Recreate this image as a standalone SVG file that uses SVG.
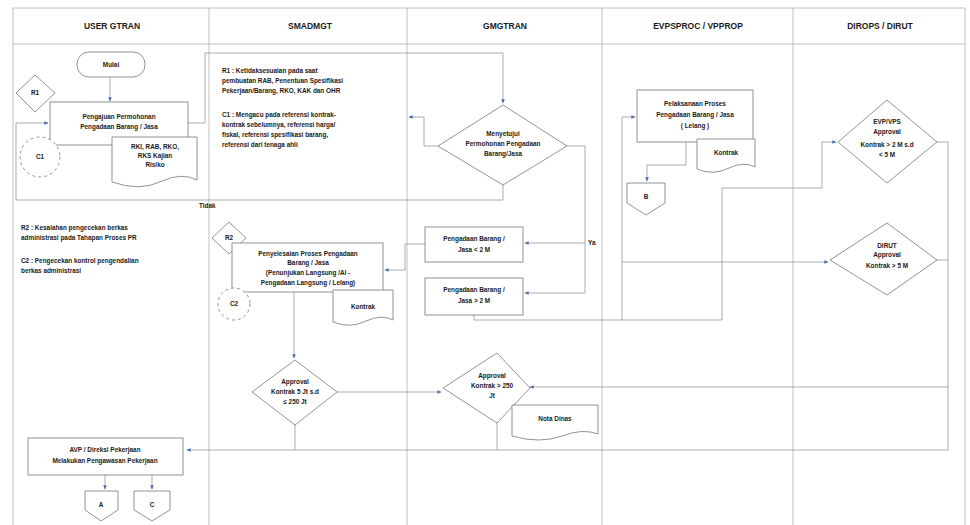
<svg xmlns="http://www.w3.org/2000/svg" width="970" height="525" viewBox="0 0 970 525">
<style>
text{font-family:"Liberation Sans",Arial,sans-serif;fill:#1a1a1a;}
.hd{font-size:8.5px;font-weight:bold;text-anchor:middle;}
.t{font-size:6.4px;font-weight:bold;text-anchor:middle;}
.a{font-size:6.4px;font-weight:bold;}
.lane{stroke:#b0b0b0;stroke-width:0.8;fill:none;}
.shp{fill:#fff;stroke:#777;stroke-width:0.8;}
.dash{fill:#fff;stroke:#777;stroke-width:0.8;stroke-dasharray:3 3;}
.c{fill:none;stroke:#8a8a8a;stroke-width:0.7;}
.ca{fill:none;stroke:#8a8a8a;stroke-width:0.7;marker-end:url(#ah);}
</style>
<defs>
<marker id="ah" viewBox="0 0 8 8" refX="7" refY="4" markerWidth="6" markerHeight="6" orient="auto">
<path d="M0,0.5 L8,4 L0,7.5 Z" fill="#4a6bb0"/>
</marker>
</defs>
<rect width="970" height="525" fill="#fff"/>
<g id="lanes">
<path class="lane" d="M13,8 H965 M13,44 H965 M13,8 V525 M209,8 V525 M407,8 V525 M602,8 V525 M793,8 V525 M965,8 V525"/>
<text class="hd" x="112" y="29">USER GTRAN</text>
<text class="hd" x="310" y="29">SMADMGT</text>
<text class="hd" x="505" y="29">GMGTRAN</text>
<text class="hd" x="698" y="29">EVPSPROC / VPPROP</text>
<text class="hd" x="880" y="29">DIROPS / DIRUT</text>
</g>
<g id="connectors">
<path class="ca" d="M110,77 V101"/>
<path class="ca" d="M188,123 H205 V53 H503 V103"/>
<path class="ca" d="M438,146 H424 V117 H409"/>
<path class="ca" d="M503,185 V200 H16 V123 H48"/>
<path class="c" d="M567,146 H585 V293"/>
<path class="ca" d="M585,243 H525"/>
<path class="ca" d="M585,293 H525"/>
<path class="ca" d="M425,244 H405 V270 H385"/>
<path class="ca" d="M474,315 V320 H722 V188 H822 V142 H836"/>
<path class="c" d="M622,320 V117"/>
<path class="ca" d="M622,117 H635"/>
<path class="ca" d="M622,262 H828"/>
<path class="ca" d="M686,142 V165 H647 V181"/>
<path class="c" d="M937,142 H948 V450 H497 M937,260 H948"/>
<path class="ca" d="M948,387 H530"/>
<path class="ca" d="M294,292 V358"/>
<path class="ca" d="M337,392 H441"/>
<path class="ca" d="M497,423 V450 H187"/>
<path class="c" d="M295,423 V450"/>
<path class="ca" d="M105,475 V489"/>
<path class="ca" d="M152,475 V489"/>
<text class="a" x="199" y="208">Tidak</text>
<text class="a" x="588" y="245">Ya</text>
</g>
<g id="mulai">
<rect class="shp" x="77" y="52" width="68" height="25" rx="12"/>
<text class="t" x="111" y="67">Mulai</text>
</g>
<g id="r1">
<path class="shp" d="M35,75 L55,93 L35,112 L16,93 Z"/>
<text class="t" x="35" y="95">R1</text>
</g>
<g id="pengajuan">
<rect class="shp" x="50" y="102" width="138" height="43"/>
<text class="t" x="119" y="119">Pengajuan Permohonan</text>
<text class="t" x="119" y="129">Pengadaan Barang / Jasa</text>
</g>
<g id="doc-rki">
<path class="shp" d="M112,137 H197 V180 Q182,172 162,181 Q140,192 112,182 Z"/>
<text class="t" x="155" y="149">RKI, RAB, RKO,</text>
<text class="t" x="155" y="158">RKS  Kajian</text>
<text class="t" x="155" y="167">Risiko</text>
</g>
<g id="c1">
<circle class="dash" cx="40" cy="157" r="20"/>
<text class="t" x="40" y="159">C1</text>
</g>
<g id="note-r1c1">
<text class="a" x="222" y="73">R1  : Ketidaksesuaian pada saat</text>
<text class="a" x="222" y="83">pembuatan RAB, Penentuan Spesifikasi</text>
<text class="a" x="222" y="93">Pekerjaan/Barang, RKO, KAK dan OHR</text>
<text class="a" x="222" y="117">C1  : Mengacu pada referensi kontrak-</text>
<text class="a" x="222" y="127">kontrak sebelumnya, referensi harga/</text>
<text class="a" x="222" y="137">fiskal, referensi spesifikasi barang,</text>
<text class="a" x="222" y="147">referensi dari tenaga ahli</text>
</g>
<g id="note-r2c2">
<text class="a" x="21" y="230">R2  : Kesalahan pengecekan berkas</text>
<text class="a" x="21" y="240">administrasi pada Tahapan Proses PR</text>
<text class="a" x="21" y="263">C2  : Pengecekan kontrol pengendalian</text>
<text class="a" x="21" y="273">berkas administrasi</text>
</g>
<g id="menyetujui">
<path class="shp" d="M503,105 L567,146 L503,185 L438,146 Z"/>
<text class="t" x="503" y="136">Menyetujui</text>
<text class="t" x="503" y="146">Permohonan Pengadaan</text>
<text class="t" x="503" y="156">Barang/Jasa</text>
</g>
<g id="r2">
<path class="shp" d="M229,222 L246,238 L229,254 L212,238 Z"/>
<text class="t" x="229" y="240">R2</text>
</g>
<g id="penyelesaian">
<rect class="shp" x="232" y="243" width="151" height="49"/>
<text class="t" x="308" y="256">Penyelesaian Proses Pengadaan</text>
<text class="t" x="308" y="265">Barang / Jasa</text>
<text class="t" x="308" y="275">(Penunjukan Langsung /Al -</text>
<text class="t" x="308" y="285">Pengadaan Langsung / Lelang)</text>
</g>
<g id="doc-kontrak1">
<path class="shp" d="M333,290 H393 V320 Q382,314 366,321 Q350,329 333,322 Z"/>
<text class="t" x="363" y="309">Kontrak</text>
</g>
<g id="c2">
<circle class="dash" cx="234" cy="304" r="16"/>
<text class="t" x="234" y="306">C2</text>
</g>
<g id="kurang2m">
<rect class="shp" x="425" y="227" width="98" height="35"/>
<text class="t" x="474" y="241">Pengadaan Barang /</text>
<text class="t" x="474" y="252">Jasa &lt; 2 M</text>
</g>
<g id="lebih2m">
<rect class="shp" x="425" y="278" width="98" height="37"/>
<text class="t" x="474" y="292">Pengadaan Barang /</text>
<text class="t" x="474" y="303">Jasa &gt; 2 M</text>
</g>
<g id="pelaksanaan">
<rect class="shp" x="637" y="90" width="116" height="52"/>
<text class="t" x="695" y="106">Pelaksanaan Proses</text>
<text class="t" x="695" y="117">Pengadaan Barang / Jasa</text>
<text class="t" x="695" y="128">( Lelang )</text>
</g>
<g id="doc-kontrak2">
<path class="shp" d="M697,139 H755 V167 Q744,161 729,168 Q713,176 697,169 Z"/>
<text class="t" x="726" y="155">Kontrak</text>
</g>
<g id="offpage-b">
<path class="shp" d="M627,183 H665 V203 L646,215 L627,203 Z"/>
<text class="t" x="646" y="199">B</text>
</g>
<g id="evpvps">
<path class="shp" d="M887,100 L937,142 L887,183 L838,142 Z"/>
<text class="t" x="887" y="124">EVP/VPS</text>
<text class="t" x="887" y="134">Approval</text>
<text class="t" x="887" y="147">Kontrak &gt; 2 M s.d</text>
<text class="t" x="887" y="157">&lt; 5 M</text>
</g>
<g id="dirut">
<path class="shp" d="M887,223 L937,260 L887,295 L830,260 Z"/>
<text class="t" x="887" y="248">DIRUT</text>
<text class="t" x="887" y="257">Approval</text>
<text class="t" x="887" y="268">Kontrak &gt; 5 M</text>
</g>
<g id="approval-smad">
<path class="shp" d="M295,360 L337,392 L295,425 L252,392 Z"/>
<text class="t" x="295" y="384">Approval</text>
<text class="t" x="295" y="394">Kontrak 5 Jt s.d</text>
<text class="t" x="295" y="404">≤ 250 Jt</text>
</g>
<g id="approval-gm">
<path class="shp" d="M497,353 L530,388 L497,423 L443,388 Z"/>
<text class="t" x="492" y="378">Approval</text>
<text class="t" x="492" y="388">Kontrak &gt; 250</text>
<text class="t" x="492" y="398">Jt</text>
</g>
<g id="notadinas">
<path class="shp" d="M512,405 H598 V434 Q583,428 562,436 Q540,444 512,436 Z"/>
<text class="t" x="555" y="421">Nota Dinas</text>
</g>
<g id="avp">
<rect class="shp" x="28" y="438" width="155" height="37"/>
<text class="t" x="105" y="452">AVP / Direksi Pekerjaan</text>
<text class="t" x="105" y="463">Melakukan Pengawasan Pekerjaan</text>
</g>
<g id="offpage-a">
<path class="shp" d="M85,491 H118 V510 L101,521 L85,510 Z"/>
<text class="t" x="101" y="507">A</text>
</g>
<g id="offpage-c">
<path class="shp" d="M134,491 H170 V510 L152,521 L134,510 Z"/>
<text class="t" x="152" y="507">C</text>
</g>
</svg>
